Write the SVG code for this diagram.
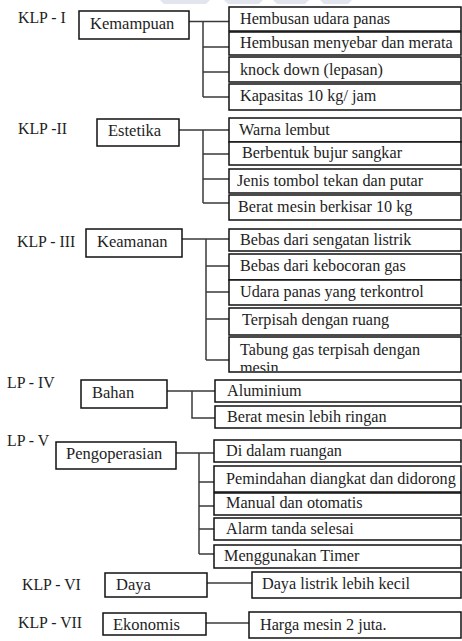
<svg xmlns="http://www.w3.org/2000/svg" width="462" height="641" viewBox="0 0 462 641">
<defs>
<style>
text{font-family:"Liberation Serif","Times New Roman",serif;font-size:16.2px;fill:#1e1e1e}
text.lbl{font-size:15.8px}
text.pb{font-size:16.5px}
.box{fill:#fff;stroke:#111;stroke-width:1.5}
.con{fill:none;stroke:#3a3a3a;stroke-width:1.5}
.wm{fill:#e2e5ee}
</style>
<clipPath id="clipMesin"><rect x="229" y="337" width="232" height="34"/></clipPath>
</defs>
<rect width="462" height="641" fill="#fff"/>
<g id="watermark">
<polygon class="wm" points="160,0 210,0 206,4 164,4"/>
<polygon class="wm" points="224,0 263,0 259,4 228,4"/>
<polygon class="wm" points="273,0 309,0 305,4 277,4"/>
<polygon class="wm" points="320,0 352,0 348,4 324,4"/>
</g>
<g id="connectors">
<path class="con" d="M189,21.5 H229 M203,21.5 V97 M203,47 H229 M203,72 H229 M203,97 H229"/>
<path class="con" d="M179,130 H229 M203,130 V203 M203,154 H229 M203,179 H229 M203,203 H229"/>
<path class="con" d="M182,239 H229 M206,239 V360 M206,266 H229 M206,292 H229 M206,319 H229 M206,360 H229"/>
<path class="con" d="M167,391 H215 M192,391 V418 H215"/>
<path class="con" d="M176,453 H214 M199,453 V554 M199,482 H214 M199,506 H214 M199,529 H214 M199,554 H214"/>
<path class="con" d="M207,583 H252"/>
<path class="con" d="M206,623 H249"/>
</g>
<g id="klp1">
<text class="lbl" x="18" y="23">KLP - I</text>
<g id="kemampuan"><rect class="box" x="79" y="11" width="110" height="28"/><text class="pb" x="90" y="29">Kemampuan</text></g>
<g id="k1a"><rect class="box" x="229" y="7" width="232" height="24"/><text x="240" y="24">Hembusan udara panas</text></g>
<g id="k1b"><rect class="box" x="229" y="32" width="232" height="23"/><text x="240" y="48">Hembusan menyebar dan merata</text></g>
<g id="k1c"><rect class="box" x="229" y="57" width="232" height="25"/><text x="240" y="75">knock down (lepasan)</text></g>
<g id="k1d"><rect class="box" x="229" y="84" width="232" height="26"/><text x="240" y="101">Kapasitas 10 kg/ jam</text></g>
</g>
<g id="klp2">
<text class="lbl" x="18" y="134">KLP -II</text>
<g id="estetika"><rect class="box" x="97" y="119" width="82" height="27"/><text class="pb" x="108" y="136">Estetika</text></g>
<g id="k2a"><rect class="box" x="229" y="118" width="232" height="24"/><text x="239" y="135">Warna lembut</text></g>
<g id="k2b"><rect class="box" x="229" y="142" width="232" height="23"/><text x="242" y="158">Berbentuk bujur sangkar</text></g>
<g id="k2c"><rect class="box" x="229" y="169" width="232" height="24"/><text x="237" y="186">Jenis tombol tekan dan putar</text></g>
<g id="k2d"><rect class="box" x="229" y="195" width="232" height="25"/><text x="238" y="212">Berat mesin berkisar 10 kg</text></g>
</g>
<g id="klp3">
<text class="lbl" x="17" y="247">KLP - III</text>
<g id="keamanan"><rect class="box" x="86" y="229" width="96" height="28"/><text class="pb" x="97" y="247">Keamanan</text></g>
<g id="k3a"><rect class="box" x="229" y="229" width="232" height="22"/><text x="240" y="245">Bebas dari sengatan listrik</text></g>
<g id="k3b"><rect class="box" x="229" y="254" width="232" height="26"/><text x="240" y="271">Bebas dari kebocoran gas</text></g>
<g id="k3c"><rect class="box" x="229" y="280" width="232" height="25"/><text x="240" y="297">Udara panas yang terkontrol</text></g>
<g id="k3d"><rect class="box" x="229" y="308" width="232" height="27"/><text x="242" y="325">Terpisah dengan ruang</text></g>
<g id="k3e"><rect class="box" x="229" y="337" width="232" height="35"/><text x="240" y="355">Tabung gas terpisah dengan</text><text x="240" y="373" clip-path="url(#clipMesin)">mesin</text></g>
</g>
<g id="klp4">
<text class="lbl" x="7" y="388">LP - IV</text>
<g id="bahan"><rect class="box" x="81" y="380" width="86" height="28"/><text class="pb" x="92" y="398">Bahan</text></g>
<g id="k4a"><rect class="box" x="215" y="380" width="246" height="22"/><text x="227" y="396">Aluminium</text></g>
<g id="k4b"><rect class="box" x="215" y="406" width="246" height="22"/><text x="227" y="422">Berat mesin lebih ringan</text></g>
</g>
<g id="klp5">
<text class="lbl" x="7" y="446">LP - V</text>
<g id="pengoperasian"><rect class="box" x="56" y="442" width="120" height="27"/><text class="pb" x="66" y="459">Pengoperasian</text></g>
<g id="k5a"><rect class="box" x="214" y="440" width="247" height="22"/><text x="226" y="456">Di dalam ruangan</text></g>
<g id="k5b"><rect class="box" x="214" y="466" width="247" height="26"/><text x="226" y="484">Pemindahan diangkat dan didorong</text></g>
<g id="k5c"><rect class="box" x="214" y="493" width="247" height="22"/><text x="226" y="508">Manual dan otomatis</text></g>
<g id="k5d"><rect class="box" x="214" y="518" width="247" height="22"/><text x="226" y="534">Alarm tanda selesai</text></g>
<g id="k5e"><rect class="box" x="214" y="545" width="247" height="23"/><text x="224" y="561">Menggunakan Timer</text></g>
</g>
<g id="klp6">
<text class="lbl" x="22" y="590">KLP - VI</text>
<g id="daya"><rect class="box" x="105" y="573" width="102" height="24"/><text class="pb" x="116" y="590">Daya</text></g>
<g id="k6a"><rect class="box" x="252" y="572" width="209" height="26"/><text x="262" y="589">Daya listrik lebih kecil</text></g>
</g>
<g id="klp7">
<text class="lbl" x="18" y="628">KLP - VII</text>
<g id="ekonomis"><rect class="box" x="103" y="613" width="103" height="22"/><text class="pb" x="113" y="630">Ekonomis</text></g>
<g id="k7a"><rect class="box" x="249" y="612" width="212" height="26"/><text x="260" y="630">Harga mesin 2 juta.</text></g>
</g>
</svg>
